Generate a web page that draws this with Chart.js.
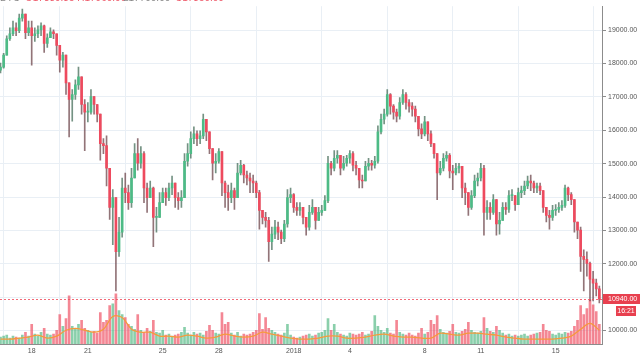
<!DOCTYPE html>
<html><head><meta charset="utf-8">
<script src="https://cdn.jsdelivr.net/npm/chart.js@4.4.1/dist/chart.umd.min.js"></script>
<style>html,body{margin:0;padding:0;background:#fff;overflow:hidden}canvas{display:block}</style>
</head><body>
<canvas id="c" width="640" height="356"></canvas>
<script>
// ---- data (4-hour candles, BTC/USD, Dec 16 2017 08:00 -> Jan 17 2018) ----
const firstOpen = 17800;
const closes = [
17890,18250,18740,18890,19070,18980,19360,19480,18920,19070,
18830,18890,19010,19130,18600,18770,18950,18890,18540,18100,
18250,17420,16920,17070,17360,17600,16770,16540,16540,17010,
16770,16480,15600,15540,14860,13690,13980,12360,12950,14270,
14130,13830,14570,15300,15010,15300,14270,13980,14270,13390,
13390,13830,14130,13980,14270,14420,13980,13890,13980,15070,
15300,15750,15890,15750,15830,16330,15950,15450,15010,15070,
15360,14420,14130,13980,14190,13980,14720,14950,14660,14570,
14480,14420,14130,13600,13390,13300,12660,12890,13100,12950,
12750,13190,13980,14070,13690,13600,13690,13390,13100,13540,
13690,13300,13540,13600,13890,15010,14860,15160,15250,14860,
15010,15160,15300,14950,14860,14510,14480,14920,15010,14950,
15070,15950,16330,16480,17070,16720,16540,16420,16830,17070,
16830,16720,16630,16420,16040,15890,16250,15890,15600,15300,
14720,14860,15160,15250,14780,14720,14860,14920,14270,14130,
13690,14040,14480,14570,14860,13540,13690,13540,13920,13190,
13300,13690,13630,14040,14040,13770,14130,14190,14330,14480,
14420,14270,14330,14190,13690,13450,13390,13600,13630,13690,
13750,14270,14070,13920,13250,13010,12220,12130,12010,11540,
11420,11250,10940];
const highs = [
18010,18300,18830,19070,19270,19220,19480,19630,19480,19270,
19270,19070,19130,19220,19150,18890,19070,19010,18890,18540,
18330,18250,17420,17220,17510,17890,17600,16920,16830,17220,
17010,16770,16480,15750,15830,14860,14220,13980,13390,14570,
14720,14360,14860,15600,15750,15510,15360,14420,14480,14300,
13690,14130,14270,14270,14420,14630,14420,14130,14190,15300,
15600,15950,16100,15980,15980,16480,16330,15950,15450,15300,
15450,15360,14480,14360,14420,14270,15010,15100,14980,14780,
14720,14660,14480,14200,13600,13540,13390,13100,13300,13250,
13010,13300,14220,14270,14100,13830,13830,13690,13390,13750,
13920,13690,13690,13750,14040,15220,15070,15390,15390,15250,
15220,15250,15390,15360,15070,14860,14660,15070,15160,15100,
15220,16130,16480,16630,17220,17100,16770,16630,16980,17220,
17130,16920,16830,16720,16420,16190,16420,16250,15980,15600,
15300,15070,15300,15360,15300,14950,15010,15010,14920,14420,
14130,14190,14660,14720,15010,14950,13890,13830,14070,13920,
13540,13830,13830,14190,14220,14040,14270,14330,14480,14630,
14660,14480,14420,14420,14190,13690,13600,13750,13770,13830,
13890,14360,14300,14130,13920,13250,13100,12420,12360,12050,
11770,11540,11330];
const lows = [
17720,17860,18250,18690,18830,18830,18920,19270,18740,18830,
17950,18660,18770,18830,18330,18480,18770,18740,18250,17740,
17890,17070,15800,16270,16920,17220,16480,15390,16250,16480,
16480,16250,15100,15300,14330,13330,12570,11190,12220,12800,
13830,13630,13690,14720,14800,14860,13830,13540,13980,12510,
12950,13390,13830,13750,13890,14070,13690,13630,13690,13980,
14920,15160,15600,15540,15600,15750,15690,15300,14510,14720,
15010,14040,13690,13600,13830,13630,13980,14660,14420,14360,
14130,14130,13980,13040,13190,13100,12070,12420,12750,12720,
12600,12660,13100,13830,13540,13450,13450,13190,12860,13010,
13480,13040,13390,13450,13690,13830,14660,14780,15010,14660,
14800,14920,15010,14780,14660,14270,14270,14480,14800,14800,
14860,15010,15890,16190,16420,16480,16330,16250,16330,16770,
16630,16540,16420,16250,15830,15750,15830,15690,15510,15160,
13920,14660,14780,15070,14570,14220,14660,14720,13980,13770,
13450,13630,13980,14330,14480,12860,13330,13330,13480,12860,
12890,13390,13480,13540,13890,13600,13770,13980,14070,14250,
14190,14130,14130,14070,13540,13250,13040,13300,13450,13540,
13600,13690,13890,13770,12950,12750,11770,11190,11630,10890,
10890,11040,10830];
const volumes = [
7,8,9,6,8,7,6,9,12,8,
20,10,8,12,16,10,9,10,14,30,
18,26,49,18,15,20,24,16,14,12,
13,11,32,22,24,39,41,51,34,30,
27,20,18,15,30,14,12,16,13,24,
12,11,14,9,10,8,9,10,12,17,
11,9,12,10,11,9,13,19,14,11,
10,32,20,22,11,9,12,8,10,9,
10,12,14,31,15,27,16,14,12,10,
9,11,20,9,7,6,7,8,9,10,
8,9,11,12,14,26,14,20,12,10,
9,8,11,10,9,10,12,9,10,13,
29,18,14,12,16,11,10,24,12,10,
9,11,9,8,11,16,10,12,24,20,
29,15,12,11,13,20,12,11,13,15,
22,14,12,11,13,27,16,13,12,18,
14,11,9,10,8,9,8,9,10,8,
9,10,11,12,20,14,13,10,9,11,
10,12,11,13,18,24,39,30,36,45,
40,33,20];
// volume moving average, one value every 3 candles
const volumeMA = [5,5,6,7,9,6,8,14,16,14,12,15,28,27,15,12,12,8,8,7,9,8,6,7,10,8,7,8,12,10,8,6,5,5,6,8,8,6,6,7,9,10,8,7,7,6,6,11,10,9,11,11,10,9,7,6,5,5,5,5,6,8,15,21,14];
const tickDays = [0,3,7,10,14,17,21,24,28];          // days from Dec 18 2017
const tickLabels = ['18','21','25','28','2018','4','8','11','15'];
const priceTicks = [10000,11000,12000,13000,14000,15000,16000,17000,18000,19000];
const lastPrice = 10940;
const countdown = '16:21';
const startDay = -40/24, stepDay = 4/24;

// ---- derived ----
const t = closes.map((_, i) => startDay + i * stepDay);
const opens = closes.map((c, i) => i === 0 ? firstOpen : closes[i - 1]);
const up = closes.map((c, i) => c >= opens[i]);
const GREEN = '#4dbb86', RED = '#ee4a5e';

const bodies = closes.map((c, i) => ({x: t[i], y: [opens[i], c]}));
const wicks = closes.map((c, i) => ({x: t[i], y: [Math.min(lows[i], opens[i], c), Math.max(highs[i], opens[i], c)]}));
const vols = volumes.map((v, i) => ({x: t[i], y: v}));
const ma = volumeMA.map((v, k) => ({x: t[3 * k], y: v}));

const overlay = {
  id: 'overlay',
  afterDatasetsDraw(chart) {
    const {ctx, chartArea} = chart;
    const y = Math.round(chart.scales.y.getPixelForValue(lastPrice)) + 0.5;
    ctx.save();
    ctx.strokeStyle = 'rgba(240,80,95,0.85)';
    ctx.lineWidth = 1;
    ctx.setLineDash([2, 2]);
    ctx.beginPath(); ctx.moveTo(chartArea.left, y); ctx.lineTo(chartArea.right, y); ctx.stroke();
    ctx.restore();
  },
  afterDraw(chart) {
    const {ctx, chartArea} = chart;
    const y = chart.scales.y.getPixelForValue(lastPrice);
    ctx.save();
    ctx.fillStyle = '#e8404f';
    ctx.fillRect(chartArea.right + 1, Math.round(y) - 5, 38, 10);
    ctx.fillRect(chartArea.right + 14, Math.round(y) + 7, 20, 10);
    ctx.fillStyle = '#fff';
    ctx.font = '7px "Liberation Sans", Arial, sans-serif';
    ctx.textBaseline = 'middle';
    ctx.textAlign = 'left';
    ctx.fillText(lastPrice.toFixed(2), chartArea.right + 6, Math.round(y));
    ctx.textAlign = 'center';
    ctx.fillText(countdown, chartArea.right + 24, Math.round(y) + 12);
    // partially visible legend strip at the very top (mostly cut off)
    ctx.textAlign = 'left';
    ctx.textBaseline = 'alphabetic';
    ctx.font = '10px "Liberation Sans", Arial, sans-serif';
    ctx.fillStyle = '#888';
    ctx.fillText('BTC', 0, 0.5);
    ctx.fillStyle = '#ee5a6a';
    ctx.fillText('O17839.85 H17960.00', 25, 0.5);
    ctx.fillStyle = '#888';
    ctx.fillText('L17700.00', 123, 0.5);
    ctx.fillStyle = '#ee5a6a';
    ctx.fillText('C17850.00', 175, 0.5);
    ctx.restore();
  }
};

new Chart(document.getElementById('c'), {
  type: 'bar',
  data: {
    datasets: [
      {type: 'bar', data: bodies, yAxisID: 'y', grouped: false, order: 0, barThickness: 2, minBarLength: 1,
       backgroundColor: up.map(u => u ? GREEN : RED)},
      {type: 'bar', data: wicks, yAxisID: 'y', grouped: false, order: 1, barThickness: 1,
       backgroundColor: up.map(u => u ? 'rgba(70,110,90,0.75)' : 'rgba(110,70,75,0.75)')},
      {type: 'line', data: ma, yAxisID: 'yv', order: 2, borderColor: '#f59a3c', borderWidth: 1.3,
       pointRadius: 0, tension: 0.35, fill: false},
      {type: 'bar', data: vols, yAxisID: 'yv', grouped: false, order: 3, barThickness: 2,
       backgroundColor: up.map(u => u ? 'rgba(60,175,115,0.6)' : 'rgba(238,70,90,0.65)')}
    ]
  },
  options: {
    responsive: false,
    animation: false,
    devicePixelRatio: 1,
    layout: {padding: 0},
    plugins: {legend: {display: false}, tooltip: {enabled: false}},
    scales: {
      x: {
        type: 'linear', min: -1.694, max: 30.475, offset: false,
        afterBuildTicks: s => { s.ticks = tickDays.map(v => ({value: v})); },
        afterFit: s => { s.height = 12; },
        ticks: {autoSkip: false, maxRotation: 0, padding: 3, color: '#555',
          font: {size: 7, family: '"Liberation Sans", Arial, sans-serif'},
          callback: v => tickLabels[tickDays.indexOf(v)] ?? ''},
        grid: {color: '#e9eff5', drawTicks: false},
        border: {color: '#8c8c8c'}
      },
      y: {
        position: 'right', min: 9597, max: 19715,
        afterBuildTicks: s => { s.ticks = priceTicks.map(v => ({value: v})); },
        afterFit: s => { s.width = 38; },
        ticks: {padding: 2, color: '#555', font: {size: 7, family: '"Liberation Sans", Arial, sans-serif'},
          callback: v => v === 11000 ? '' : Number(v).toFixed(2)},
        grid: {color: '#e9eff5', tickLength: 4, tickColor: '#8c8c8c'},
        border: {color: '#8c8c8c'}
      },
      yv: {display: false, min: 0, max: 344}
    }
  },
  plugins: [overlay]
});
</script>
</body></html>
